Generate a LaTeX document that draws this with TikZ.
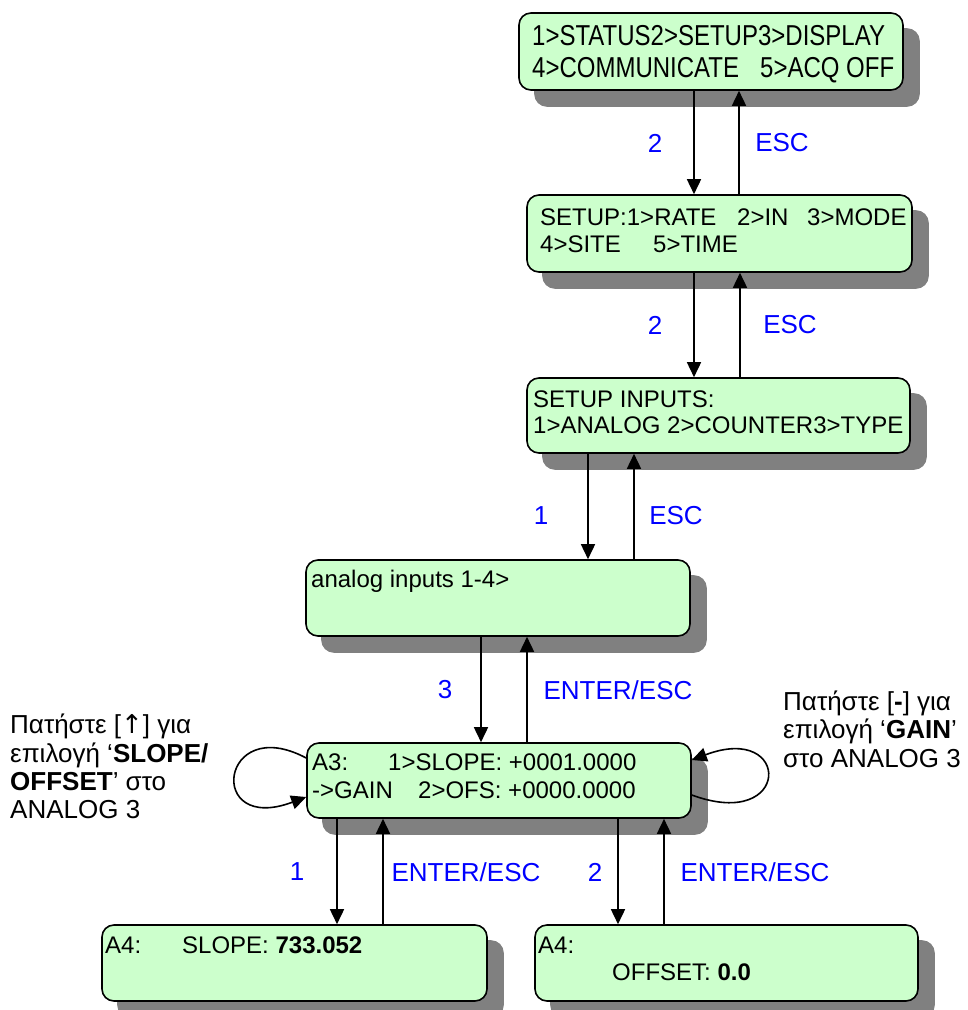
\documentclass[tikz,border=0pt]{standalone}
\usepackage{fontspec}
\setmainfont{Liberation Sans}
\newfontfamily\dvfont{DejaVu Sans}
\usetikzlibrary{arrows.meta,shadows}
\definecolor{lcd}{RGB}{204,255,204}
\definecolor{shd}{RGB}{128,128,128}
\definecolor{lbl}{RGB}{0,0,255}
\begin{document}
\begin{tikzpicture}[x=1pt,y=-1pt,
  lcdbox/.style={draw=black, line width=1.6pt, fill=lcd, rounded corners=12pt, inner sep=0pt,
    copy shadow={shadow xshift=16pt, shadow yshift=-16pt, fill=shd, draw=shd}},
  txt/.style={anchor=base west, inner sep=0pt, font=\fontsize{24}{28}\selectfont},
  lab/.style={text=lbl, inner sep=0pt, font=\fontsize{26}{30}\selectfont},
  note/.style={anchor=base west, inner sep=0pt, font=\fontsize{26}{30}\selectfont},
  arr/.style={line width=1.6pt, -{Triangle[length=15pt,width=14pt]}},
  loop/.style={line width=1.6pt, -{Triangle[length=15pt,width=14pt]}}
]
\useasboundingbox (0,0) rectangle (968,1010);

% boxes
\node[lcdbox, minimum width=384pt, minimum height=77pt] (b1) at (711,51.5) {};
\node[lcdbox, minimum width=385pt, minimum height=77pt] (b2) at (719.5,233.5) {};
\node[lcdbox, minimum width=383pt, minimum height=75pt] (b3) at (718.5,415.5) {};
\node[lcdbox, minimum width=384pt, minimum height=76pt] (b4) at (498,598) {};
\node[lcdbox, minimum width=384pt, minimum height=75pt] (b5) at (499,780.5) {};
\node[lcdbox, minimum width=385pt, minimum height=76pt] (b6) at (294.5,963) {};
\node[lcdbox, minimum width=383pt, minimum height=76pt] (b7) at (726.5,963) {};

% box texts
\node[txt] (t1a) at (532,45) {\scalebox{1}[1.2]{1>STATUS2>SETUP3>DISPLAY}};
\node[txt] (t1b) at (532,77) {\scalebox{1}[1.2]{\makebox[228pt][l]{4>COMMUNICATE}5>ACQ OFF}};
\node[txt] (t2a) at (540,225) {\makebox[197pt][l]{SETUP:1>RATE}\makebox[70pt][l]{2>IN}3>MODE};
\node[txt] (t2b) at (540,252) {\makebox[113pt][l]{4>SITE}5>TIME};
\node[txt] (t3a) at (533,407) {SETUP INPUTS:};
\node[txt] (t3b) at (533,433) {1>ANALOG 2>COUNTER3>TYPE};
\node[txt] (t4) at (311,587) {analog inputs 1-4>};
\node[txt] (t5a) at (312,770) {\makebox[76pt][l]{A3:}1>SLOPE: +0001.0000};
\node[txt] (t5b) at (312,798) {\makebox[106pt][l]{->GAIN}2>OFS: +0000.0000};
\node[txt] (t6) at (105,953) {\makebox[77pt][l]{A4:}SLOPE: \textbf{733.052}};
\node[txt] (t7a) at (538,953) {A4:};
\node[txt] (t7b) at (612,980) {OFFSET: \textbf{0.0}};

% arrow anchor coordinates
\coordinate (d12) at ([xshift=-17pt]b1.south);
\coordinate (u12) at ([xshift=28pt]b1.south);
\coordinate (d23) at ([xshift=-25.5pt]b2.south);
\coordinate (u23) at ([xshift=20.5pt]b2.south);
\coordinate (d34) at ([xshift=-130.5pt]b3.south);
\coordinate (u34) at ([xshift=-84.5pt]b3.south);
\coordinate (d45) at ([xshift=-17pt]b4.south);
\coordinate (u45) at ([xshift=29pt]b4.south);
\coordinate (d56) at ([xshift=-162pt]b5.south);
\coordinate (u56) at ([xshift=-116pt]b5.south);
\coordinate (d57) at ([xshift=119pt]b5.south);
\coordinate (u57) at ([xshift=165pt]b5.south);

\draw[arr] (d12) -- (d12 |- b2.north);
\draw[arr] (u12 |- b2.north) -- (u12);
\draw[arr] (d23) -- (d23 |- b3.north);
\draw[arr] (u23 |- b3.north) -- (u23);
\draw[arr] (d34) -- (d34 |- b4.north);
\draw[arr] (u34 |- b4.north) -- (u34);
\draw[arr] (d45) -- (d45 |- b5.north);
\draw[arr] (u45 |- b5.north) -- (u45);
\draw[arr] (d56) -- (d56 |- b6.north);
\draw[arr] (u56 |- b6.north) -- (u56);
\draw[arr] (d57) -- (d57 |- b7.north);
\draw[arr] (u57 |- b7.north) -- (u57);

% self loops
\coordinate (la) at (b5.west |- 0,758);
\coordinate (lb) at (b5.west |- 0,797);
\coordinate (ra) at (b5.east |- 0,795);
\coordinate (rb) at (b5.east |- 0,760);
\draw[loop] (la) .. controls (220,712) and (205,835) .. (lb);
\draw[loop] (ra) .. controls (792,832) and (792,722) .. (rb);

% labels
\node[lab] (k12) at (655,143) {2};
\node[lab] (e12) at (782,143) {ESC};
\node[lab] (k23) at (655,325) {2};
\node[lab] (e23) at (790,325) {ESC};
\node[lab] (k34) at (541,516) {1};
\node[lab] (e34) at (676,516) {ESC};
\node[lab] (k45) at (445,690) {3};
\node[lab] (e45) at (618,690) {ENTER/ESC};
\node[lab] (k56) at (297,872) {1};
\node[lab] (e56) at (466,872) {ENTER/ESC};
\node[lab] (k57) at (595,872) {2};
\node[lab] (e57) at (755,872) {ENTER/ESC};

% notes
\node[note] (n1) at (10,733) {Πατήστε [{\dvfont ↑}] για};
\node[note] (n2) at (10,762) {επιλογή ‘\textbf{SLOPE/}};
\node[note] (n3) at (10,790) {\textbf{OFFSET}’ στο};
\node[note] (n4) at (10,818) {ANALOG 3};
\node[note] (m1) at (783,710) {Πατήστε [\textbf{-}] για};
\node[note] (m2) at (783,738) {επιλογή ‘\textbf{GAIN}’};
\node[note] (m3) at (783,767) {στο ANALOG 3};
\end{tikzpicture}
\end{document}
